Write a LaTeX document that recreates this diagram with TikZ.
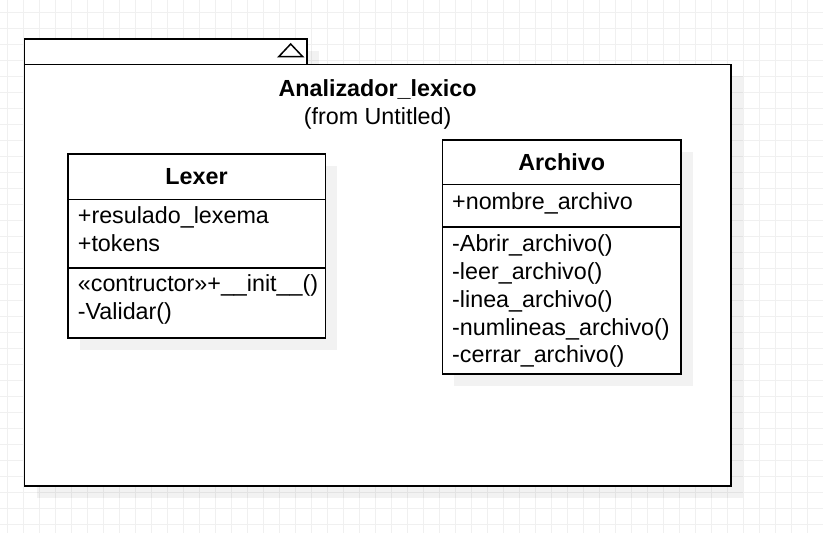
\documentclass[tikz,border=0pt]{standalone}
\usepackage{fontspec}
\setmainfont{Liberation Sans}
\usetikzlibrary{positioning,shadows}

\definecolor{gridgray}{RGB}{240,240,240}

\begin{document}
\begin{tikzpicture}[
      x=1pt, y=-1pt,
      every node/.style={font=\fontsize{23.3}{27.3}\selectfont, text=black},
      gridline/.style={draw=gridgray, line width=0.8pt},
      umlbox/.style={draw, fill=white, line width=1.6pt, inner sep=0pt, outer sep=0pt,
        drop shadow={shadow xshift=12pt, shadow yshift=-12pt, fill=black, opacity=0.05}},
      classhead/.style={umlbox, font=\fontsize{23.3}{27.3}\selectfont\bfseries},
      classpart/.style={umlbox},
      member/.style={anchor=north west, inner sep=0pt, text height=19.7pt, text depth=7.6pt}
    ]
      \fill[white] (0,0) rectangle (823,533);
      \useasboundingbox (0,0) rectangle (823,533);
      % background grid
      \foreach \gx in {7.7,23.7,...,823}
        \draw[gridline] (\gx,0) -- (\gx,533);
      \foreach \gy in {12.3,28.3,...,533}
        \draw[gridline] (0,\gy) -- (823,\gy);

      % package
      \node[umlbox, anchor=north west, minimum width=282.2pt, minimum height=25.3pt] (tab) at (24.5,39) {};
      \draw[line width=1.5pt] (278.7,56.7) -- (302.7,56.7) -- (290.7,44) -- cycle;
      \node[umlbox, anchor=north west, minimum width=706.2pt, minimum height=421.4pt] (pkg) at (24.5,64.3) {};
      \node[font=\fontsize{23.3}{27.3}\selectfont\bfseries, anchor=base] (pkgname) at (377.6,96.7) {Analizador\_lexico};
      \node[anchor=base] (pkgsource) at (377.6,124.3) {(from Untitled)};

      % class Lexer
      \node[classhead, anchor=north west, minimum width=257.6pt, minimum height=45.5pt] (lexer) at (67.7,154) {Lexer};
      \node[classpart, minimum width=257.6pt, minimum height=68.4pt, below=0pt of lexer] (lexerattrs) {};
      \node[classpart, minimum width=257.6pt, minimum height=70pt, below=0pt of lexerattrs] (lexerops) {};
      \node[member] (lexerattr1) at (77.7,203.6) {+resulado\_lexema};
      \node[member] (lexerattr2) at (lexerattr1.south west) {+tokens};
      \node[member] (lexerop1) at (77.7,272) {«contructor»+\_\_init\_\_()};
      \node[member] (lexerop2) at (lexerop1.south west) {-Validar()};

      % class Archivo
      \node[classhead, anchor=north west, minimum width=238.7pt, minimum height=44.3pt] (archivo) at (442.3,140) {Archivo};
      \node[classpart, minimum width=238.7pt, minimum height=42.4pt, below=0pt of archivo] (archivoattrs) {};
      \node[classpart, minimum width=238.7pt, minimum height=147.3pt, below=0pt of archivoattrs] (archivoops) {};
      \node[member] (archivoattr1) at (452,189.6) {+nombre\_archivo};
      \node[member] (archivoop1) at (452,232) {-Abrir\_archivo()};
      \node[member] (archivoop2) at (archivoop1.south west) {-leer\_archivo()};
      \node[member] (archivoop3) at (archivoop2.south west) {-linea\_archivo()};
      \node[member] (archivoop4) at (archivoop3.south west) {-numlineas\_archivo()};
      \node[member] (archivoop5) at (archivoop4.south west) {-cerrar\_archivo()};
    \end{tikzpicture}
\end{document}
